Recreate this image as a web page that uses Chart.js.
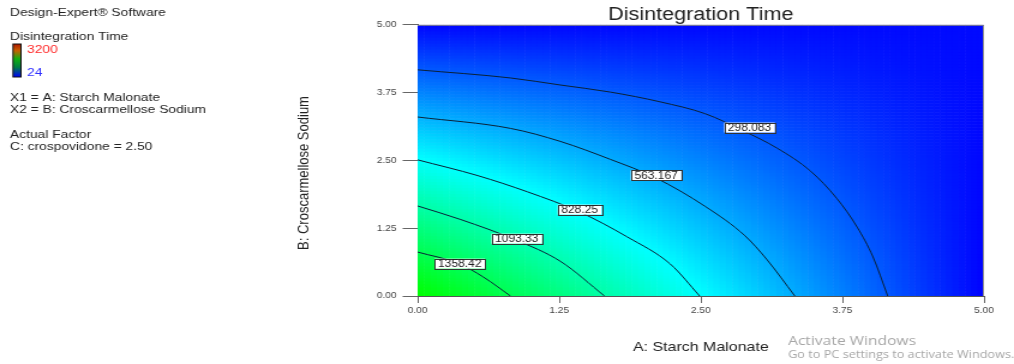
<!DOCTYPE html>
<html>
<head>
<meta charset="utf-8">
<script src="https://cdn.jsdelivr.net/npm/chart.js@4.4.1/dist/chart.umd.min.js"></script>
<style>
  html, body { margin: 0; padding: 0; background: #fff; }
</style>
</head>
<body>
<!-- the reference screenshot is stretched sideways, so the canvas is drawn narrow and widened by css -->
<canvas id="plot" width="845" height="364" style="display:block;width:1014px;height:364px"></canvas>
<script>
// axis ticks (both factors run 0..5)
const tickValues = [0, 1.25, 2.5, 3.75, 5];

// response at the tick grid, rows go up in B, columns go right in A
const gridA = [0, 1.25, 2.5, 3.75, 5];
const gridB = [0, 1.25, 2.5, 3.75, 5];
const responseB000 = [1620, 1223, 825, 428, 30];
const responseB125 = [1226, 929, 631, 334, 36];
const responseB250 = [833, 635, 437, 240, 43];
const responseB375 = [439, 341, 244, 146, 49];
const responseB500 = [45, 48, 50, 53, 55];
const responseRows = [responseB000, responseB125, responseB250, responseB375, responseB500];
const responseMin = 24;
const responseMax = 3200;

// contour lines
const levelNames = ['298.083', '563.167', '828.25', '1093.33', '1358.42'];
const c298A = [0, 0.82, 1.26, 1.70, 2.14, 2.54, 2.87, 3.17, 3.47, 3.70, 3.88, 4.02, 4.15];
const c298B = [4.17, 4.02, 3.89, 3.76, 3.58, 3.36, 3.05, 2.73, 2.30, 1.80, 1.27, 0.72, 0];
const c563A = [0, 0.82, 1.26, 1.70, 2.10, 2.54, 2.89, 3.08, 3.33];
const c563B = [3.30, 3.09, 2.85, 2.52, 2.18, 1.65, 1.11, 0.68, 0];
const c828A = [0, 0.53, 0.97, 1.43, 1.85, 2.23, 2.49];
const c828B = [2.51, 2.22, 1.92, 1.55, 1.09, 0.59, 0];
const c1093A = [0, 0.38, 0.87, 1.26, 1.65];
const c1093B = [1.66, 1.41, 1.03, 0.64, 0];
const c1358A = [0, 0.36, 0.58, 0.82];
const c1358B = [0.81, 0.60, 0.35, 0];

// where the level tags sit
const tagA = [2.93, 2.105, 1.43, 0.875, 0.372];
const tagB = [3.105, 2.223, 1.592, 1.057, 0.596];

const sideLines = [
  ['Design-Expert\u00ae Software', 12.7, '#222'],
  ['Disintegration Time', 36.7, '#222'],
  ['X1 = A: Starch Malonate', 98.3, '#222'],
  ['X2 = B: Croscarmellose Sodium', 110, '#222'],
  ['Actual Factor', 135, '#222'],
  ['C: crospovidone = 2.50', 146.7, '#222']
];

const SX = 1.2; // css stretch
const FONT = "'Liberation Sans', Arial, sans-serif";

function toPoints(xs, ys) {
  return xs.map((x, i) => ({x: x, y: ys[i]}));
}

function lookup(a, b) {
  let i = Math.min(Math.floor(a / 1.25), 3);
  let j = Math.min(Math.floor(b / 1.25), 3);
  const fa = (a - gridA[i]) / 1.25;
  const fb = (b - gridB[j]) / 1.25;
  const r0 = responseRows[j], r1 = responseRows[j + 1];
  const lo = r0[i] * (1 - fa) + r0[i + 1] * fa;
  const hi = r1[i] * (1 - fa) + r1[i + 1] * fa;
  return lo * (1 - fb) + hi * fb;
}

// blue -> cyan -> green -> yellow -> red
function rampColor(v) {
  let t = (v - responseMin) / (responseMax - responseMin);
  t = Math.max(0, Math.min(1, t));
  let r = 0, g = 0, b = 0;
  if (t < 0.25) { g = t * 4; b = 1; }
  else if (t < 0.5) { g = 1; b = 1 - (t - 0.25) * 4; }
  else if (t < 0.75) { r = (t - 0.5) * 4; g = 1; }
  else { r = 1; g = 1 - (t - 0.75) * 4; }
  return 'rgb(' + Math.round(r * 255) + ',' + Math.round(g * 255) + ',' + Math.round(b * 255) + ')';
}

const fieldPlugin = {
  id: 'field',
  beforeDatasetsDraw(chart) {
    const {ctx, chartArea: area, scales: {x, y}} = chart;
    const n = 90;
    ctx.save();
    ctx.beginPath();
    ctx.rect(area.left, area.top, area.right - area.left, area.bottom - area.top);
    ctx.clip();
    for (let i = 0; i < n; i++) {
      const a0 = 5 * i / n, a1 = 5 * (i + 1) / n;
      const x0 = x.getPixelForValue(a0), x1 = x.getPixelForValue(a1);
      for (let j = 0; j < n; j++) {
        const b0 = 5 * j / n, b1 = 5 * (j + 1) / n;
        const y0 = y.getPixelForValue(b1), y1 = y.getPixelForValue(b0);
        ctx.fillStyle = rampColor(lookup((a0 + a1) / 2, (b0 + b1) / 2));
        ctx.fillRect(x0, y0, x1 - x0 + 0.6, y1 - y0 + 0.6);
      }
    }
    ctx.restore();
  },
  afterDatasetsDraw(chart) {
    const {ctx, chartArea: area, scales: {x, y}} = chart;
    ctx.save();
    // frame on top and right
    ctx.strokeStyle = '#8a8a8a';
    ctx.lineWidth = 1;
    ctx.beginPath();
    ctx.moveTo(area.left, area.top + 0.5);
    ctx.lineTo(area.right - 0.5, area.top + 0.5);
    ctx.lineTo(area.right - 0.5, area.bottom);
    ctx.stroke();
    // level tags
    ctx.font = '10px ' + FONT;
    ctx.textAlign = 'center';
    ctx.textBaseline = 'middle';
    levelNames.forEach((txt, k) => {
      const cx = x.getPixelForValue(tagA[k]);
      const cy = y.getPixelForValue(tagB[k]);
      const w = ctx.measureText(txt).width + 6;
      const h = 10;
      ctx.fillStyle = '#fff';
      ctx.fillRect(cx - w / 2, cy - h / 2, w, h);
      ctx.strokeStyle = '#333';
      ctx.strokeRect(Math.round(cx - w / 2) + 0.5, Math.round(cy - h / 2) + 0.5, Math.round(w), h);
      ctx.fillStyle = '#222';
      ctx.fillText(txt, cx, cy + 0.5);
    });
    ctx.restore();
  }
};

const sidePlugin = {
  id: 'side',
  afterDraw(chart) {
    const ctx = chart.ctx;
    ctx.save();
    ctx.textBaseline = 'middle';
    ctx.textAlign = 'left';
    ctx.font = '11.5px ' + FONT;
    sideLines.forEach(([txt, yy, col]) => {
      ctx.fillStyle = col;
      ctx.fillText(txt, 10 / SX, yy);
    });
    // colour key
    const kx = 13 / SX, kw = 8 / SX, ky = 44, kh = 33;
    const grad = ctx.createLinearGradient(0, ky, 0, ky + kh);
    grad.addColorStop(0, '#b01800');
    grad.addColorStop(0.2, '#c86000');
    grad.addColorStop(0.45, '#10b010');
    grad.addColorStop(0.7, '#008040');
    grad.addColorStop(1, '#0000ff');
    ctx.fillStyle = grad;
    ctx.fillRect(kx, ky, kw, kh);
    ctx.strokeStyle = '#111';
    ctx.lineWidth = 1;
    ctx.strokeRect(kx, ky, kw, kh);
    ctx.fillStyle = '#ff2a2a';
    ctx.fillText(String(responseMax), 27 / SX, 49.8);
    ctx.fillStyle = '#3030ff';
    ctx.fillText(String(responseMin), 27 / SX, 73.3);

    // y axis title
    ctx.save();
    ctx.translate(304 / SX, 173);
    ctx.rotate(-Math.PI / 2);
    ctx.textAlign = 'center';
    ctx.fillStyle = '#222';
    ctx.font = '13px ' + FONT;
    ctx.fillText('B: Croscarmellose Sodium', 0, 0);
    ctx.restore();

    // windows watermark from the screenshot
    ctx.fillStyle = '#a6a6a6';
    ctx.font = "13px 'Open Sans', sans-serif";
    ctx.fillText('Activate Windows', 788 / SX, 341);
    ctx.font = "10.6px 'Open Sans', sans-serif";
    ctx.fillText('Go to PC settings to activate Windows.', 788 / SX, 355);
    ctx.restore();
  }
};

const lineColor = '#0a2238';
const datasets = [
  [c298A, c298B], [c563A, c563B], [c828A, c828B], [c1093A, c1093B], [c1358A, c1358B]
].map(([xs, ys], k) => ({
  label: levelNames[k],
  data: toPoints(xs, ys),
  showLine: true,
  borderColor: lineColor,
  borderWidth: 1,
  pointRadius: 0,
  cubicInterpolationMode: 'monotone',
  fill: false
}));

const tickFont = {family: FONT, size: 8.5};

const chart = new Chart(document.getElementById('plot'), {
  type: 'scatter',
  data: {datasets: datasets},
  options: {
    responsive: false,
    devicePixelRatio: 1,
    animation: false,
    events: [],
    layout: {padding: {left: 0, right: 25, top: 0, bottom: 0}},
    plugins: {
      legend: {display: false},
      tooltip: {enabled: false},
      title: {
        display: true,
        fullSize: false,
        text: 'Disintegration Time',
        color: '#222',
        font: {family: FONT, size: 18, weight: 'normal', lineHeight: 1.1},
        padding: {top: 5, bottom: 0}
      }
    },
    scales: {
      x: {
        type: 'linear',
        min: 0,
        max: 5,
        afterBuildTicks(scale) { scale.ticks = tickValues.map(v => ({value: v})); },
        afterFit(scale) { scale.height = 68; },
        ticks: {
          color: '#444',
          font: tickFont,
          padding: 3,
          maxRotation: 0,
          autoSkip: false,
          callback: v => v.toFixed(2)
        },
        grid: {drawOnChartArea: false, drawTicks: true, tickLength: 7, color: '#666'},
        border: {display: true, color: '#555'},
        title: {
          display: true,
          text: 'A: Starch Malonate',
          color: '#222',
          font: {family: FONT, size: 13.3},
          padding: {top: 0, bottom: 9}
        }
      },
      y: {
        type: 'linear',
        min: 0,
        max: 5,
        afterBuildTicks(scale) { scale.ticks = tickValues.map(v => ({value: v})); },
        afterFit(scale) { scale.width = 348; },
        ticks: {
          color: '#444',
          font: tickFont,
          padding: 5,
          autoSkip: false,
          callback: v => v.toFixed(2)
        },
        grid: {drawOnChartArea: false, drawTicks: true, tickLength: 12.5, color: '#666'},
        border: {display: true, color: '#555'},
        title: {display: false}
      }
    }
  },
  plugins: [fieldPlugin, sidePlugin]
});
chart.canvas.style.width = '1014px';
chart.canvas.style.height = '364px';
</script>
</body>
</html>
